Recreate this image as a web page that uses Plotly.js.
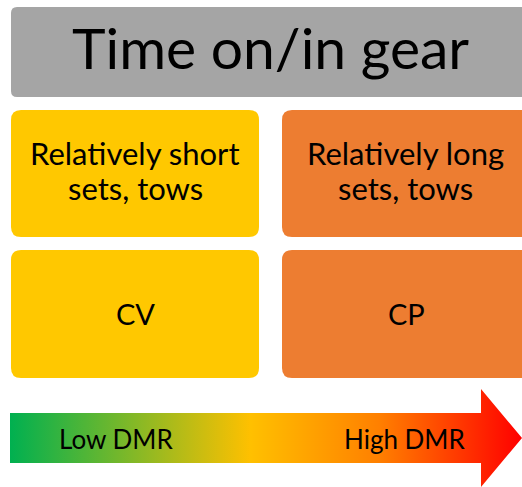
<!DOCTYPE html>
<html><head><meta charset="utf-8">
<script src="https://cdn.plot.ly/plotly-3.0.1.min.js"></script>
<style>html,body{margin:0;padding:0;background:#fff}</style>
</head><body><div id="chart" style="width:522px;height:487px"></div>
<script>
// Diagram content
const title = "Time on/in gear";
const columnLine1 = ["Relatively short", "Relatively long"];
const columnLine2 = ["sets, tows", "sets, tows"];
const rowLabels = ["CV", "CP"];
const colColors = ["#ffc800", "#ed7d31"];
const scaleLabels = ["Low DMR", "High DMR"];
const gradientStops = [[0, "#00b050"], [0.47, "#ffc000"], [0.72, "#ff8000"], [1, "#ff0000"]];

const FONT = "Lato, 'Open Sans', sans-serif";

function rrect(x0, y0, x1, y1, r) {
  return `M${x0+r},${y0} L${x1-r},${y0} Q${x1},${y0} ${x1},${y0+r} L${x1},${y1-r} Q${x1},${y1} ${x1-r},${y1} L${x0+r},${y1} Q${x0},${y1} ${x0},${y1-r} L${x0},${y0+r} Q${x0},${y0} ${x0+r},${y0} Z`;
}

const colX = [[11, 259], [282, 540]];
const colCenter = [135, 405];
const rowY = [[110, 237], [250, 378]];

const shapes = [];
shapes.push({type: "path", xref: "x", yref: "y", path: rrect(11, 7, 540, 97, 6), fillcolor: "#a5a5a5", line: {width: 0}, layer: "below"});
for (let c = 0; c < 2; c++) for (let r = 0; r < 2; r++) {
  shapes.push({type: "path", xref: "x", yref: "y", path: rrect(colX[c][0], rowY[r][0], colX[c][1], rowY[r][1], 10), fillcolor: colColors[c], line: {width: 0}, layer: "below"});
}

const annotations = [];
const ann = (x, y, text, size) => annotations.push({x, y, xref: "x", yref: "y", text, showarrow: false, font: {family: FONT, size, color: "#000"}});
ann(270, 47, title, 57);
for (let c = 0; c < 2; c++) {
  ann(colCenter[c], 153, columnLine1[c], 31);
  ann(colCenter[c], 188, columnLine2[c], 31);
  ann(colCenter[c] + (c ? 1 : 0), 313, rowLabels[c], 29);
}
ann(116, 439, scaleLabels[0], 26);
ann(404, 439, scaleLabels[1], 26);

const arrow = {
  x: [10, 481, 481, 522, 481, 481, 10, 10],
  y: [413, 413, 389, 438, 487, 463, 463, 413],
  type: "scatter", mode: "lines", fill: "toself", line: {width: 0},
  fillgradient: {type: "horizontal", colorscale: gradientStops},
  hoverinfo: "skip", showlegend: false
};

Plotly.newPlot("chart", [arrow], {
  width: 522, height: 487,
  margin: {l: 0, r: 0, t: 0, b: 0},
  paper_bgcolor: "#fff", plot_bgcolor: "#fff",
  xaxis: {range: [0, 522], visible: false, fixedrange: true},
  yaxis: {range: [487, 0], visible: false, fixedrange: true},
  shapes: shapes, annotations: annotations, showlegend: false
}, {displayModeBar: false, staticPlot: true});
</script></body></html>
